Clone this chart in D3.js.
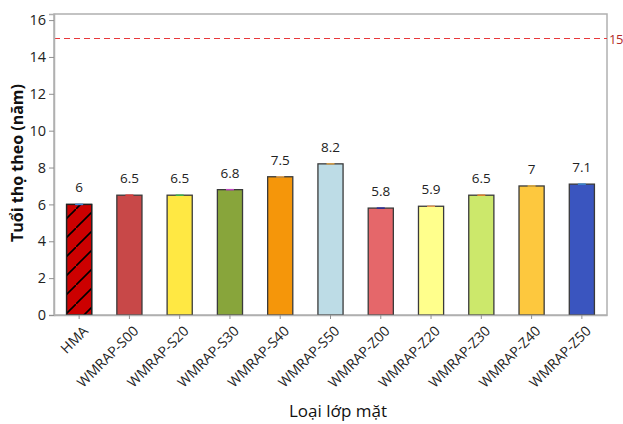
<!DOCTYPE html>
<html>
<head>
<meta charset="utf-8">
<script src="https://cdn.jsdelivr.net/npm/d3@7"></script>
<style>
  html, body { margin: 0; padding: 0; background: #fff; }
  svg { display: block; font-family: "Open Sans", "Noto Sans", sans-serif; }
</style>
</head>
<body>
<svg id="chart" width="623" height="424"></svg>
<script>
// Service life of each surface layer type (years)
const categories = ["HMA", "WMRAP-S00", "WMRAP-S20", "WMRAP-S30", "WMRAP-S40", "WMRAP-S50",
                    "WMRAP-Z00", "WMRAP-Z20", "WMRAP-Z30", "WMRAP-Z40", "WMRAP-Z50"];
const lifeYears = [6, 6.5, 6.5, 6.8, 7.5, 8.2, 5.8, 5.9, 6.5, 7, 7.1];
const yTicks = [0, 2, 4, 6, 8, 10, 12, 14, 16];
const targetLife = 15;

// Fill of each bar and colour of the small cap drawn on its top
const barColors = ["#cc0000", "#c84848", "#ffe843", "#88a53b", "#f5960a", "#bddce6",
                   "#e5676a", "#ffff8c", "#cce86b", "#fdc83e", "#3a55bf"];
const capColors = ["#3d86d6", "#e23a3a", "#3db84d", "#c04cc0", "#d9a05a", "#dca24a",
                   "#2a2a9a", "#e0964f", "#e4862e", "#e9b23c", "#3d8ad6"];

const margin = { top: 14, right: 16, bottom: 109, left: 54 };
const width = 623, height = 424;
const svg = d3.select("#chart");

const x = d3.scaleBand()
  .domain(categories)
  .range([margin.left, width - margin.right])
  .paddingInner(0.5)
  .paddingOuter(0.25);

const y = d3.scaleLinear()
  .domain([0, 16.33])
  .range([height - margin.bottom, margin.top]);

// Hatch pattern for the reference mix
const defs = svg.append("defs");
defs.append("pattern")
  .attr("id", "hatch")
  .attr("patternUnits", "userSpaceOnUse")
  .attr("width", 19).attr("height", 19)
  .append("path")
  .attr("d", "M-2,21 L21,-2")
  .attr("stroke", "#000").attr("stroke-width", 1.6);

// Plot frame
svg.append("rect")
  .attr("x", margin.left).attr("y", margin.top)
  .attr("width", width - margin.right - margin.left)
  .attr("height", height - margin.bottom - margin.top)
  .attr("fill", "none").attr("stroke", "#b0b0b0").attr("stroke-width", 1.5);

// Target service-life line
const yT = y(targetLife);
svg.append("line")
  .attr("x1", margin.left).attr("x2", width - margin.right)
  .attr("y1", yT).attr("y2", yT)
  .attr("stroke", "#e8393c").attr("stroke-width", 1.2)
  .attr("stroke-dasharray", "6,4");
svg.append("text")
  .attr("x", width - margin.right + 2).attr("y", yT + 5)
  .attr("fill", "#b42a2a").attr("font-size", 13)
  .attr("letter-spacing", -0.5)
  .text(targetLife);

// Bars
const bars = svg.append("g");
bars.selectAll("rect.bar")
  .data(lifeYears)
  .join("rect")
  .attr("class", "bar")
  .attr("x", (d, i) => x(categories[i]))
  .attr("y", d => y(d))
  .attr("width", x.bandwidth())
  .attr("height", d => y(0) - y(d))
  .attr("fill", (d, i) => barColors[i])
  .attr("stroke", "#3a3a3a").attr("stroke-width", 1.3);

// Hatch overlay on the first bar
bars.append("rect")
  .attr("x", x(categories[0]))
  .attr("y", y(lifeYears[0]))
  .attr("width", x.bandwidth())
  .attr("height", y(0) - y(lifeYears[0]))
  .attr("fill", "url(#hatch)")
  .attr("stroke", "#222").attr("stroke-width", 1.3);

// Small coloured caps on the bar tops
bars.selectAll("line.cap")
  .data(lifeYears)
  .join("line")
  .attr("class", "cap")
  .attr("x1", (d, i) => x(categories[i]) + x.bandwidth() / 2 - 4)
  .attr("x2", (d, i) => x(categories[i]) + x.bandwidth() / 2 + 4)
  .attr("y1", d => y(d)).attr("y2", d => y(d))
  .attr("stroke", (d, i) => capColors[i]).attr("stroke-width", 1.5);

// Value labels
svg.append("g").selectAll("text")
  .data(lifeYears)
  .join("text")
  .attr("x", (d, i) => x(categories[i]) + x.bandwidth() / 2)
  .attr("y", d => y(d) - 12)
  .attr("text-anchor", "middle")
  .attr("font-size", 13.5)
  .attr("fill", "#222")
  .text(d => d);

// Y axis
const yAxis = svg.append("g")
  .attr("transform", `translate(${margin.left},0)`)
  .call(d3.axisLeft(y).tickValues(yTicks).tickSize(5).tickPadding(3));
yAxis.select(".domain").attr("stroke", "#b0b0b0").attr("stroke-width", 1.5);
yAxis.selectAll(".tick line").attr("stroke", "#909090");
yAxis.selectAll(".tick text").attr("font-size", 14.5).attr("fill", "#222")
  .attr("font-family", "'Open Sans', sans-serif");

// X axis
const xAxis = svg.append("g")
  .attr("transform", `translate(0,${y(0)})`)
  .call(d3.axisBottom(x).tickSize(4).tickSizeOuter(0));
xAxis.select(".domain").attr("stroke", "#b0b0b0").attr("stroke-width", 1.5);
xAxis.selectAll(".tick line").attr("stroke", "#909090");
xAxis.selectAll(".tick text")
  .attr("font-size", 14).attr("fill", "#222")
  .attr("font-family", "'Open Sans', sans-serif")
  .attr("text-anchor", "end")
  .attr("dy", null)
  .attr("transform", "translate(5,12) rotate(-45)");

// Axis titles
svg.append("text")
  .attr("transform", "translate(23,163) rotate(-90)")
  .attr("text-anchor", "middle")
  .attr("font-size", 16).attr("font-weight", "bold").attr("fill", "#111")
  .text("Tuổi thọ theo (năm)");

svg.append("text")
  .attr("x", 338).attr("y", 417)
  .attr("text-anchor", "middle")
  .attr("font-size", 17).attr("fill", "#111")
  .text("Loại lớp mặt");
</script>
</body>
</html>
